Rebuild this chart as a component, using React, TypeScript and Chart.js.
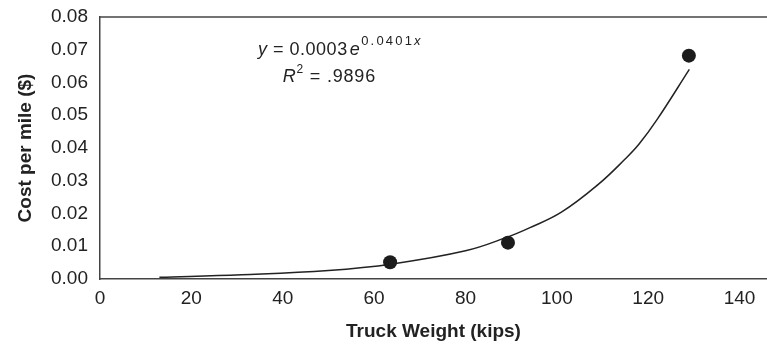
import React, { useEffect, useRef } from "react";
import { Chart, registerables } from "chart.js";

Chart.register(...registerables);

// Observed data points (truck weight in kips, cost per mile in $)
const weights = [63.5, 89.3, 128.9];
const costs = [0.0051, 0.0111, 0.0682];

// Exponential trend line
const trendWeights = [13, 31, 50, 64, 80, 89, 94, 101, 109, 115, 118, 122, 129];
const trendCosts = [0.0005, 0.0013, 0.0026, 0.0046, 0.0086, 0.0127, 0.0156, 0.0204, 0.0288, 0.0367, 0.0412, 0.0488, 0.064];

const xTitle = "Truck Weight (kips)";
const yTitle = "Cost per mile ($)";
const eqMain = "0.0003";
const eqExp = "0.0401";
const r2Value = ".9896";
// anchor of the equation text in data units
const eqAnchor = { x: 34.6, y: 0.0699 };
const r2Anchor = { x: 40.0, y: 0.0617 };

const FONT = "'Liberation Sans', Arial, Helvetica, sans-serif";
const TEXT = "#222";
const AXIS = "#444";

export default function App() {
  const ref = useRef<HTMLCanvasElement | null>(null);

  useEffect(() => {
    document.body.style.margin = "0";
    const canvas = ref.current;
    if (!canvas) return;

    const framePlugin = {
      id: "frame",
      afterDraw(chart: any) {
        const { ctx, chartArea, scales } = chart;
        ctx.save();
        // top border
        ctx.strokeStyle = AXIS;
        ctx.lineWidth = 1.5;
        ctx.beginPath();
        ctx.moveTo(chartArea.left, chartArea.top);
        ctx.lineTo(chart.width, chartArea.top);
        ctx.stroke();

        const xs = scales.x;
        const ys = scales.y;
        ctx.fillStyle = TEXT;
        ctx.textBaseline = "middle";
        ctx.textAlign = "left";
        const c: any = ctx;
        const setLS = (v: string) => {
          if ("letterSpacing" in c) c.letterSpacing = v;
        };

        // equation line
        let px = xs.getPixelForValue(eqAnchor.x);
        const py = ys.getPixelForValue(eqAnchor.y);
        setLS("0.5px");
        ctx.font = `italic 18px ${FONT}`;
        ctx.fillText("y", px, py);
        px += ctx.measureText("y").width;
        ctx.font = `18px ${FONT}`;
        const mid = " = " + eqMain;
        ctx.fillText(mid, px, py);
        px += ctx.measureText(mid).width + 2;
        ctx.font = `italic 18px ${FONT}`;
        ctx.fillText("e", px, py);
        px += ctx.measureText("e").width + 1;
        setLS("2.2px");
        ctx.font = `13px ${FONT}`;
        ctx.fillText(eqExp, px, py - 9);
        px += ctx.measureText(eqExp).width;
        ctx.font = `italic 13px ${FONT}`;
        ctx.fillText("x", px, py - 9);

        // R^2 line
        setLS("0.8px");
        let rx = xs.getPixelForValue(r2Anchor.x);
        const ry = ys.getPixelForValue(r2Anchor.y);
        ctx.font = `italic 18px ${FONT}`;
        ctx.fillText("R", rx, ry);
        rx += ctx.measureText("R").width;
        ctx.font = `12px ${FONT}`;
        ctx.fillText("2", rx, ry - 7);
        rx += ctx.measureText("2").width;
        ctx.font = `18px ${FONT}`;
        ctx.fillText(" = " + r2Value, rx, ry);
        setLS("0px");
        ctx.restore();
      },
    };

    const chart = new Chart(canvas, {
      type: "scatter",
      data: {
        datasets: [
          {
            label: "points",
            data: weights.map((w, i) => ({ x: w, y: costs[i] })),
            pointRadius: 7,
            pointHoverRadius: 7,
            backgroundColor: "#1c1c1c",
            borderColor: "#1c1c1c",
            borderWidth: 0,
            order: 0,
          },
          {
            label: "trend",
            data: trendWeights.map((w, i) => ({ x: w, y: trendCosts[i] })),
            showLine: true,
            pointRadius: 0,
            borderColor: "#222",
            borderWidth: 1.5,
            tension: 0.4,
            order: 1,
          } as any,
        ],
      },
      options: {
        responsive: true,
        maintainAspectRatio: false,
        animation: false,
        layout: { autoPadding: false, padding: { top: 17, right: 0, bottom: 0, left: 0 } },
        plugins: {
          legend: { display: false },
          tooltip: { enabled: false },
        },
        scales: {
          x: {
            type: "linear",
            min: 0,
            max: 146,
            grid: { display: false, drawTicks: false },
            border: { display: true, color: AXIS, width: 1.5 },
            ticks: {
              stepSize: 20,
              includeBounds: false,
              padding: 8,
              color: TEXT,
              font: { family: FONT, size: 19 },
            },
            afterFit: (s: any) => {
              s.height = 68;
            },
            title: {
              display: true,
              text: xTitle,
              color: TEXT,
              font: { family: FONT, size: 19, weight: "bold" },
              padding: { top: 0, bottom: 4 },
            },
          },
          y: {
            type: "linear",
            min: 0,
            max: 0.08,
            grid: { display: false, drawTicks: false },
            border: { display: true, color: AXIS, width: 1.5 },
            ticks: {
              stepSize: 0.01,
              padding: 12,
              color: TEXT,
              font: { family: FONT, size: 19 },
              callback: (v: any) => Number(v).toFixed(2),
            },
            afterFit: (s: any) => {
              s.width = 100;
              s.paddingTop = 10;
              s.paddingBottom = 0;
            },
            title: {
              display: true,
              text: yTitle,
              color: TEXT,
              font: { family: FONT, size: 19, weight: "bold" },
              padding: { top: 14, bottom: 0 },
            },
          },
        },
      },
      plugins: [framePlugin],
    } as any);

    return () => chart.destroy();
  }, []);

  return (
    <div style={{ width: 767, height: 347, position: "relative" }}>
      <canvas ref={ref} />
    </div>
  );
}
